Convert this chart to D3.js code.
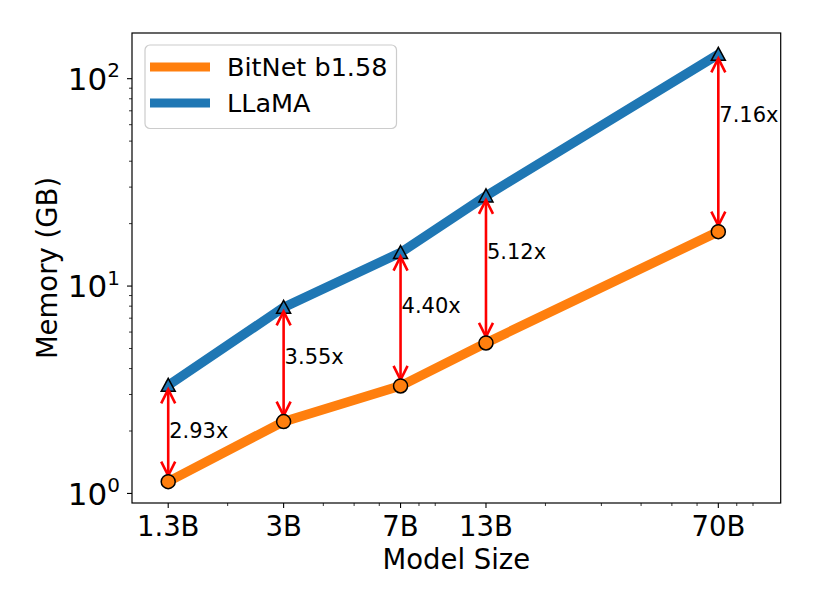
<!DOCTYPE html>
<html>
<head>
<meta charset="utf-8">
<script src="https://cdn.jsdelivr.net/npm/d3@7"></script>
<style>
  body { margin: 0; background: #fff; }
  svg { display: block; font-family: "DejaVu Sans", sans-serif; }
</style>
</head>
<body>
<svg id="chart" width="814" height="610"></svg>
<script>
// ---- data ----
const sizes = [1.3, 3, 7, 13, 70];
const sizeLabels = ["1.3B", "3B", "7B", "13B", "70B"];
const bitnet = [1.14, 2.22, 3.30, 5.32, 18.3];
const llama = [3.32, 7.89, 14.5, 27.2, 131];
const ratioLabels = ["2.93x", "3.55x", "4.40x", "5.12x", "7.16x"];
const seriesNames = ["BitNet b1.58", "LLaMA"];
const yTickValues = [1, 10, 100];
const yTickExps = ["0", "1", "2"];

// ---- layout ----
const svg = d3.select("#chart");
const L = 132, R = 780.7, T = 33, B = 503;
const orange = "#ff7f0e", blue = "#1f77b4";

const x = d3.scaleLog().domain([1, 110]).range([L, R]);
const allVals = bitnet.concat(llama);
const lo = Math.log10(d3.min(allVals)), hi = Math.log10(d3.max(allVals));
const m = (hi - lo) * 0.05;
const y = d3.scaleLog().domain([Math.pow(10, lo - m), Math.pow(10, hi + m)]).range([B, T]);

// minor ticks
const xMinor = [];
[1, 10].forEach(d => { for (let k = 2; k <= 9; k++) xMinor.push(d * k); });
const yMinor = [];
[1, 10].forEach(d => { for (let k = 2; k <= 9; k++) yMinor.push(d * k); });

const g = svg.append("g");

// lines
const line = d3.line().x(d => x(d[0])).y(d => y(d[1]));
const bData = sizes.map((s, i) => [s, bitnet[i]]);
const lData = sizes.map((s, i) => [s, llama[i]]);
g.append("path").attr("d", line(bData)).attr("fill", "none")
  .attr("stroke", orange).attr("stroke-width", 9.5);
g.append("path").attr("d", line(lData)).attr("fill", "none")
  .attr("stroke", blue).attr("stroke-width", 9.5);

// triangles (LLaMA)
g.selectAll(".tri").data(lData).enter().append("path")
  .attr("d", d => { const xx = x(d[0]), yy = y(d[1]), s = 7;
    return `M${xx},${yy - s}L${xx + s},${yy + s * 0.85}L${xx - s},${yy + s * 0.85}Z`; })
  .attr("fill", blue).attr("stroke", "#000").attr("stroke-width", 1.5);

// arrows
sizes.forEach((s, i) => {
  const xx = x(s);
  const y1 = y(llama[i]) + 4;
  const y2 = y(bitnet[i]) - 6;
  const ag = g.append("g").attr("stroke", "#ff0000").attr("stroke-width", 2.6)
    .attr("fill", "none").attr("stroke-linecap", "butt").attr("stroke-linejoin", "miter");
  ag.append("line").attr("x1", xx).attr("x2", xx).attr("y1", y1).attr("y2", y2);
  ag.append("path").attr("d", `M${xx - 7},${y1 + 14}L${xx},${y1}L${xx + 7},${y1 + 14}`);
  ag.append("path").attr("d", `M${xx - 7},${y2 - 14}L${xx},${y2}L${xx + 7},${y2 - 14}`);
});

// circles (BitNet)
g.selectAll(".circ").data(bData).enter().append("circle")
  .attr("cx", d => x(d[0])).attr("cy", d => y(d[1])).attr("r", 7)
  .attr("fill", orange).attr("stroke", "#000").attr("stroke-width", 1.5);

// ratio labels
sizes.forEach((s, i) => {
  const mid = (llama[i] + bitnet[i]) / 2;
  g.append("text").attr("x", x(s) + 1).attr("y", y(mid) + 16.5)
    .attr("font-size", 21).attr("fill", "#000").text(ratioLabels[i]);
});

// spines
svg.append("rect").attr("x", L).attr("y", T).attr("width", R - L).attr("height", B - T)
  .attr("fill", "none").attr("stroke", "#000").attr("stroke-width", 1.2);

// x ticks
const xt = svg.append("g");
sizes.forEach((s, i) => {
  xt.append("line").attr("x1", x(s)).attr("x2", x(s)).attr("y1", B).attr("y2", B + 5)
    .attr("stroke", "#000").attr("stroke-width", 1.1);
  xt.append("text").attr("x", x(s)).attr("y", B + 33).attr("text-anchor", "middle")
    .attr("font-size", 27.5).text(sizeLabels[i]);
});
xMinor.filter(v => v > 1 && v < 110 && !sizes.includes(v)).forEach(v => {
  xt.append("line").attr("x1", x(v)).attr("x2", x(v)).attr("y1", B).attr("y2", B + 3)
    .attr("stroke", "#000").attr("stroke-width", 0.8);
});

// y ticks
const yt = svg.append("g");
yTickValues.forEach((v, i) => {
  yt.append("line").attr("x1", L - 5).attr("x2", L).attr("y1", y(v)).attr("y2", y(v))
    .attr("stroke", "#000").attr("stroke-width", 1.1);
  const t = yt.append("text").attr("x", 120).attr("y", y(v) + 11.3).attr("text-anchor", "end");
  t.append("tspan").attr("font-size", 31).text("10");
  t.append("tspan").attr("font-size", 20).attr("dy", -12.5).text(yTickExps[i]);
});
const yd = y.domain();
yMinor.filter(v => v > yd[0] && v < yd[1]).forEach(v => {
  yt.append("line").attr("x1", L - 3).attr("x2", L).attr("y1", y(v)).attr("y2", y(v))
    .attr("stroke", "#000").attr("stroke-width", 0.8);
});

// axis labels
svg.append("text").attr("x", (L + R) / 2).attr("y", 568.5).attr("text-anchor", "middle")
  .attr("font-size", 27.5).text("Model Size");
svg.append("text").attr("transform", `translate(56.5,${(T + B) / 2}) rotate(-90)`)
  .attr("text-anchor", "middle").attr("font-size", 27.5).text("Memory (GB)");

// legend
const lg = svg.append("g");
lg.append("rect").attr("x", 145).attr("y", 45).attr("width", 251.5).attr("height", 83.5)
  .attr("rx", 5).attr("fill", "#fff").attr("fill-opacity", 0.8)
  .attr("stroke", "#cccccc").attr("stroke-width", 1.2);
[orange, blue].forEach((c, i) => {
  const cy = 67 + i * 36;
  lg.append("line").attr("x1", 150).attr("x2", 210).attr("y1", cy).attr("y2", cy)
    .attr("stroke", c).attr("stroke-width", 9);
  lg.append("text").attr("x", 227).attr("y", cy + 9.3).attr("font-size", 25.5)
    .text(seriesNames[i]);
});
</script>
</body>
</html>
